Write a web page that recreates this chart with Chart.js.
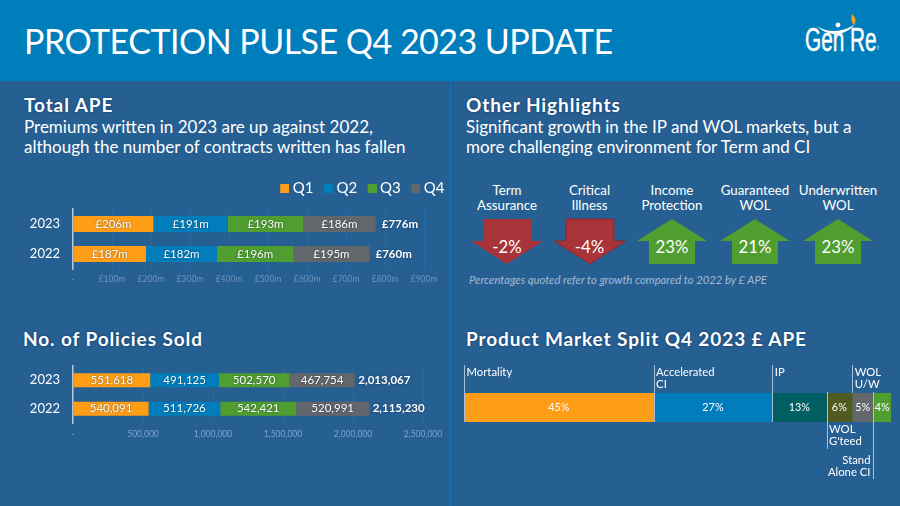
<!DOCTYPE html>
<html>
<head>
<meta charset="utf-8">
<title>Protection Pulse Q4 2023 Update</title>
<script src="https://cdn.jsdelivr.net/npm/chart.js@4/dist/chart.umd.min.js"></script>
<style>
html, body { margin: 0; padding: 0; }
body { width: 900px; height: 506px; overflow: hidden; position: relative; background: #265f92; font-family: Lato, sans-serif; color: #fff; }
#top { position: absolute; left: 0; top: 0; width: 900px; height: 81px; background: #007dbb; }
#divider { position: absolute; left: 450px; top: 81px; width: 1px; height: 425px; background: #0b77b3; }
h1 { position: absolute; left: 24px; top: 20px; margin: 0; font-weight: 400; font-size: 34px; line-height: 42px; white-space: nowrap; letter-spacing: -0.52px; }
h2 { position: absolute; margin: 0; font-size: 19px; line-height: 22px; font-weight: 700; letter-spacing: 0.9px; white-space: nowrap; text-shadow: 0 0 2px rgba(0,30,70,.7); }
.sub { position: absolute; font-size: 17px; line-height: 20px; white-space: nowrap; }
canvas { position: absolute; }
.name { position: absolute; top: 182.5px; width: 90px; margin-left: -45px; text-align: center; font-size: 13.3px; line-height: 15px; }
.arrow { position: absolute; top: 218px; width: 74px; height: 48px; margin-left: -37px; }
.pct { position: absolute; top: 235px; width: 74px; margin-left: -37px; text-align: center; font-size: 16.8px; line-height: 24px; }
#note { position: absolute; left: 469px; top: 273px; font-size: 11.25px; line-height: 14px; font-style: italic; color: #a4bbd3; white-space: nowrap; }
#logo { position: absolute; left: 805px; top: 13px; width: 80px; height: 42px; }
#logoText { position: absolute; left: 805px; top: 22px; font-family: "Liberation Sans", sans-serif; font-size: 33px; line-height: 36px; white-space: nowrap; transform: scaleX(0.63); transform-origin: left top; -webkit-text-stroke: 0.5px #fff; }
</style>
</head>
<body>
<div id="top"></div>
<div id="divider"></div>
<h1>PROTECTION PULSE Q4 2023 UPDATE</h1>
<svg id="logo" viewBox="0 0 80 42">
  <path d="M12 13 C22 20 38 20 50 11 C40 24 22 24 12 13 Z" fill="#fff"/>
  <circle cx="33" cy="12" r="2.4" fill="#fff"/>
  <path d="M47 1 C50 4 52 7 49 12 C46 9 46 5 47 1 Z" fill="#f5a01d"/>
</svg>
<div id="logoText">Gen Re<span style="font-size:5px;vertical-align:1px;-webkit-text-stroke:0">®</span></div>

<h2 style="left:24px;top:94px">Total APE</h2>
<div class="sub" style="left:24px;top:117px">Premiums written in 2023 are up against 2022,<br>although the number of contracts written has fallen</div>
<h2 style="left:466px;top:94px">Other Highlights</h2>
<div class="sub" style="left:466px;top:117px">Significant growth in the IP and WOL markets, but a<br>more challenging environment for Term and CI</div>
<h2 style="left:23px;top:328px">No. of Policies Sold</h2>
<h2 style="left:466px;top:328px">Product Market Split Q4 2023 £ APE</h2>

<canvas id="apeChart" width="451" height="115" style="left:0;top:174px"></canvas>
<canvas id="policyChart" width="450" height="88" style="left:0;top:355px"></canvas>
<canvas id="marketChart" width="450" height="140" style="left:450px;top:350px"></canvas>

<div id="highlights"></div>
<div id="note">Percentages quoted refer to growth compared to 2022 by £ APE</div>

<script>
const years = ['2023', '2022'];
const quarters = ['Q1', 'Q2', 'Q3', 'Q4'];
const apeQ1 = [206, 187];
const apeQ2 = [191, 182];
const apeQ3 = [193, 196];
const apeQ4 = [186, 195];
const apeTotals = ['£776m', '£760m'];
const policyQ1 = [551618, 540091];
const policyQ2 = [491125, 511726];
const policyQ3 = [502570, 542421];
const policyQ4 = [467754, 520991];
const policyTotals = ['2,013,067', '2,115,230'];
const marketNames = ['Mortality', 'Accelerated\nCI', 'IP', "WOL\nG'teed", 'WOL\nU/W', 'Stand\nAlone CI'];
const marketValues = [44.4, 27.8, 12.7, 6.0, 5.0, 4.1];
const marketLabels = ['45%', '27%', '13%', '6%', '5%', '4%'];
const highlightNames = ['Term\nAssurance', 'Critical\nIllness', 'Income\nProtection', 'Guaranteed\nWOL', 'Underwritten\nWOL'];
const highlightValues = [-2, -4, 23, 21, 23];

const quarterColors = ['#ff9e16', '#007dba', '#509e2f', '#63666a'];
const marketColors = ['#ff9e16', '#007dba', '#005f62', '#4f5b20', '#63666a', '#509e2f'];
const arrowX = [507, 589.5, 672, 755, 838];
const fontName = 'Lato, sans-serif';

// arrows and growth figures
const box = document.getElementById('highlights');
highlightNames.forEach((name, i) => {
    const up = highlightValues[i] > 0;
    const pts = up ? '37,1 72,23 60,23 60,46 14,46 14,23 2,23' : '13,1 61,1 61,23 73,23 37,46 1,23 13,23';
    const stroke = i == 1 ? '#8b2b30' : 'none';
    box.insertAdjacentHTML('beforeend',
        '<div class="name" style="left:' + arrowX[i] + 'px">' + name.replace('\n', '<br>') + '</div>' +
        '<svg class="arrow" style="left:' + arrowX[i] + 'px" viewBox="0 0 74 48"><polygon points="' + pts + '" fill="' + (up ? '#509e2f' : '#a83338') + '" stroke="' + stroke + '"/></svg>' +
        '<div class="pct" style="left:' + arrowX[i] + 'px">' + highlightValues[i] + '%</div>');
});

// value text inside the stacked bars, total after them
const barText = {
    id: 'barText',
    afterDatasetsDraw(chart, args, opts) {
        const ctx = chart.ctx;
        ctx.save();
        ctx.textBaseline = 'middle';
        ctx.fillStyle = '#fff';
        ctx.shadowColor = 'rgba(0,30,60,.6)';
        ctx.shadowBlur = 2;
        chart.data.datasets.forEach((ds, d) => {
            chart.getDatasetMeta(d).data.forEach((bar, i) => {
                ctx.font = '11.5px ' + fontName;
                ctx.textAlign = 'center';
                ctx.fillText(opts.format(ds.data[i]), (bar.x + bar.base) / 2, bar.y);
                if (d == chart.data.datasets.length - 1) {
                    ctx.font = 'bold 11.5px ' + fontName;
                    ctx.textAlign = 'left';
                    ctx.fillText(opts.totals[i], bar.x + opts.gap, bar.y);
                }
            });
        });
        ctx.restore();
    }
};

// fixed legend band so the plot area sits where it should
const legendBand = {
    id: 'legendBand',
    beforeInit(chart) {
        const fit = chart.legend.fit;
        chart.legend.fit = function () {
            fit.call(this);
            this.height = 35;
        };
    }
};

// legend swatch sits closer to its text than the library default
function swatch(color) {
    const c = document.createElement('canvas');
    c.width = 17;
    c.height = 9;
    const g = c.getContext('2d');
    g.fillStyle = color;
    g.fillRect(8, 0, 9, 9);
    return c;
}

function quarterSets(rows, barPct) {
    return rows.map((row, i) => ({ label: quarters[i], data: row, backgroundColor: quarterColors[i], barPercentage: barPct, categoryPercentage: 1 }));
}

function barOptions(xOpts, tickColor, tickPad) {
    return {
        indexAxis: 'y',
        responsive: false,
        animation: false,
        layout: { padding: 0 },
        plugins: { legend: { display: false }, tooltip: { enabled: false } },
        scales: {
            y: {
                stacked: true,
                afterFit(s) { s.width = 73; s.paddingTop = 0; s.paddingBottom = 0; },
                grid: { display: false },
                border: { color: '#b3c7dc', width: 1.5 },
                ticks: { color: '#fff', padding: 5, font: { family: fontName, size: 13 } }
            },
            x: Object.assign({
                stacked: true,
                min: 0,
                afterFit(s) { s.height = 20; },
                grid: { color: '#246aa6', drawTicks: false },
                border: { display: false }
            }, xOpts, { ticks: Object.assign({ color: tickColor, padding: tickPad, maxRotation: 0, autoSkip: false, font: { family: fontName, size: 8.5 } }, xOpts.ticks) })
        }
    };
}

const apeOptions = barOptions({
    max: 969,
    ticks: { stepSize: 100, includeBounds: false, callback: v => v == 0 ? '-' : '£' + v + 'm' }
}, '#6e95bb', 5);
apeOptions.plugins.legend = {
    display: true,
    position: 'top',
    align: 'end',
    labels: {
        color: '#fff',
        boxWidth: 9,
        boxHeight: 9,
        padding: 6.5,
        usePointStyle: true,
        font: { family: fontName, size: 15 },
        generateLabels: () => quarters.map((q, i) => ({ text: q, fontColor: '#fff', pointStyle: swatch(quarterColors[i]), datasetIndex: i }))
    }
};
apeOptions.plugins.barText = { format: v => '£' + v + 'm', totals: apeTotals, gap: 6 };

new Chart(document.getElementById('apeChart'), {
    type: 'bar',
    data: { labels: years, datasets: quarterSets([apeQ1, apeQ2, apeQ3, apeQ4], 0.53) },
    options: apeOptions,
    plugins: [legendBand, barText]
});

const policyOptions = barOptions({
    max: 2500000,
    ticks: { stepSize: 500000, callback: v => v == 0 ? '-' : v.toLocaleString('en-GB') }
}, '#7fa5cb', 6);
policyOptions.layout.padding = { top: 11, right: 27 };
policyOptions.plugins.barText = { format: v => v.toLocaleString('en-GB'), totals: policyTotals, gap: 3.5 };

new Chart(document.getElementById('policyChart'), {
    type: 'bar',
    data: { labels: years, datasets: quarterSets([policyQ1, policyQ2, policyQ3, policyQ4], 0.49) },
    options: policyOptions,
    plugins: [barText]
});

// leader lines and names for the market split bar
const marketText = {
    id: 'marketText',
    afterDatasetsDraw(chart) {
        const ctx = chart.ctx, area = chart.chartArea, x = chart.scales.x;
        ctx.save();
        ctx.textBaseline = 'middle';
        let sum = 0;
        marketValues.forEach((v, i) => {
            const left = x.getPixelForValue(sum), right = x.getPixelForValue(sum + v);
            sum += v;
            ctx.fillStyle = '#fff';
            ctx.font = '10.8px ' + fontName;
            ctx.textAlign = 'center';
            ctx.fillText(marketLabels[i], (left + right) / 2, (area.top + area.bottom) / 2);

            const lines = marketNames[i].split('\n');
            const below = i == 3 || i == 5;
            const y1 = below ? area.top - 1 : area.top - 28;
            const y2 = i == 3 ? area.bottom + 27 : i == 5 ? area.bottom + 57 : i == 4 ? area.top : area.bottom;
            ctx.strokeStyle = '#a9c0d8';
            ctx.lineWidth = 1;
            ctx.beginPath();
            ctx.moveTo(Math.round(left) + 0.5, y1);
            ctx.lineTo(Math.round(left) + 0.5, y2);
            ctx.stroke();

            ctx.font = '11.3px ' + fontName;
            ctx.fillStyle = '#fff';
            ctx.textAlign = i == 5 ? 'right' : 'left';
            const tx = i == 5 ? left - 3 : left + 2.5;
            const ty = i == 3 ? area.bottom + 7 : i == 5 ? area.bottom + 38.5 : area.top - 20.5;
            lines.forEach((t, l) => ctx.fillText(t, tx, ty + l * 12));
        });
        ctx.restore();
    }
};

new Chart(document.getElementById('marketChart'), {
    type: 'bar',
    data: {
        labels: ['Split'],
        datasets: marketValues.map((v, i) => ({ label: marketNames[i], data: [v], backgroundColor: marketColors[i], barPercentage: 1, categoryPercentage: 1 }))
    },
    options: {
        indexAxis: 'y',
        responsive: false,
        animation: false,
        layout: { padding: { left: 14, right: 9, top: 43, bottom: 68 } },
        plugins: { legend: { display: false }, tooltip: { enabled: false } },
        scales: {
            x: { stacked: true, min: 0, max: 100, display: false },
            y: { stacked: true, display: false }
        }
    },
    plugins: [marketText]
});
</script>
</body>
</html>
